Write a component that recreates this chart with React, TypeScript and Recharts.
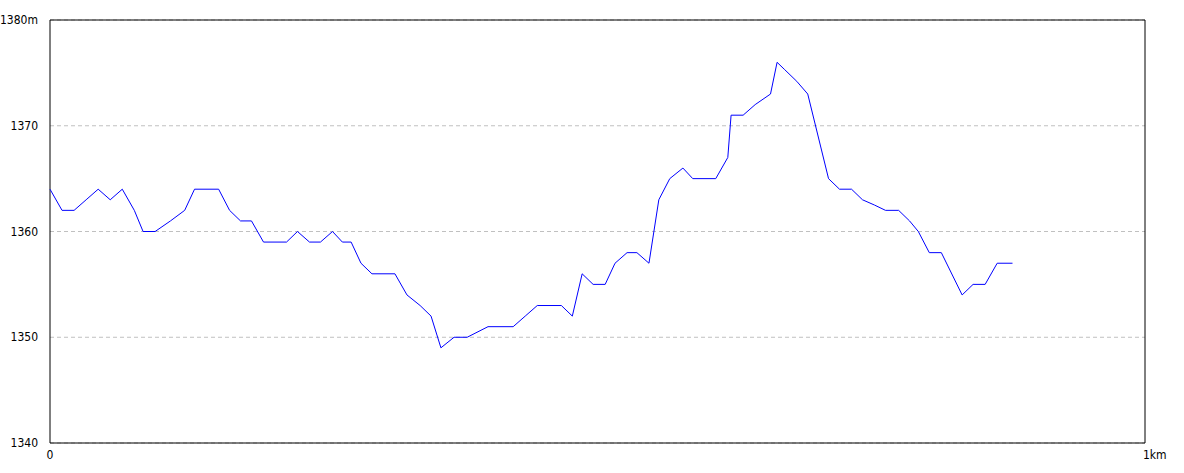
import { LineChart, Line, XAxis, YAxis, CartesianGrid, ReferenceArea } from "recharts";

// distance along the route (m) and elevation (m)
const distances = [
  0, 11, 22, 33, 44, 55, 66, 77, 85, 96, 110, 123, 132, 154, 164, 174, 184, 195, 216, 226,
  237, 247, 258, 267, 275, 284, 294, 315, 326, 338, 348, 357, 369, 381, 400, 423, 434, 445, 467, 477,
  486, 496, 507, 516, 527, 536, 547, 556, 566, 578, 587, 608, 619, 622, 633, 644, 658, 664, 671, 682,
  692, 711, 721, 732, 742, 753, 763, 775, 785, 793, 803, 814, 833, 843, 854, 865, 879,
];
const elevations = [
  1364, 1362, 1362, 1363, 1364, 1363, 1364, 1362, 1360, 1360, 1361, 1362, 1364, 1364, 1362, 1361, 1361, 1359, 1359, 1360,
  1359, 1359, 1360, 1359, 1359, 1357, 1356, 1356, 1354, 1353, 1352, 1349, 1350, 1350, 1351, 1351, 1352, 1353, 1353, 1352,
  1356, 1355, 1355, 1357, 1358, 1358, 1357, 1363, 1365, 1366, 1365, 1365, 1367, 1371, 1371, 1372, 1373, 1376, 1375.3, 1374.2,
  1373, 1365, 1364, 1364, 1363, 1362.5, 1362, 1362, 1361, 1360, 1358, 1358, 1354, 1355, 1355, 1357, 1357,
];
const yTicks = [1340, 1350, 1360, 1370, 1380];
const xTicks = [0, 1000];

const data = distances.map((d, i) => ({ dist: d, elev: elevations[i] }));

const FONT = "'Liberation Sans Narrow', 'DejaVu Sans Condensed', sans-serif";

const YTick = ({ x, y, payload }: any) => (
  <text x={x - 4} y={y} textAnchor="end" dominantBaseline="central" fontSize={12} fontFamily={FONT} fill="#000">
    {payload.value === 1380 ? "1380m" : payload.value}
  </text>
);

const XTick = ({ x, y, payload }: any) => {
  const last = payload.value === 1000;
  return (
    <text
      x={last ? x - 2 : x}
      y={y + 4}
      textAnchor={last ? "start" : "middle"}
      dominantBaseline="central"
      fontSize={12}
      fontFamily={FONT}
      fill="#000"
    >
      {last ? "1km" : payload.value}
    </text>
  );
};

export default function App() {
  return (
    <div style={{ position: "absolute", left: 0, top: 0, background: "#fff" }}>
      <LineChart width={1184} height={473} data={data} margin={{ top: 20, right: 39, left: 0, bottom: 0 }}>
        <CartesianGrid vertical={false} stroke="#c0c0c0" strokeDasharray="4 3" />
        <XAxis
          dataKey="dist"
          type="number"
          domain={[0, 1000]}
          ticks={xTicks}
          height={30}
          axisLine={false}
          tickLine={false}
          tick={<XTick />}
        />
        <YAxis
          type="number"
          domain={[1340, 1380]}
          ticks={yTicks}
          width={50}
          axisLine={false}
          tickLine={false}
          tick={<YTick />}
        />
        <ReferenceArea x1={0} x2={1000} y1={1340} y2={1380} stroke="#000" strokeWidth={1} fill="none" fillOpacity={0} ifOverflow="visible" />
        <Line dataKey="elev" type="linear" stroke="#0000ff" strokeWidth={1} dot={false} isAnimationActive={false} />
      </LineChart>
    </div>
  );
}
